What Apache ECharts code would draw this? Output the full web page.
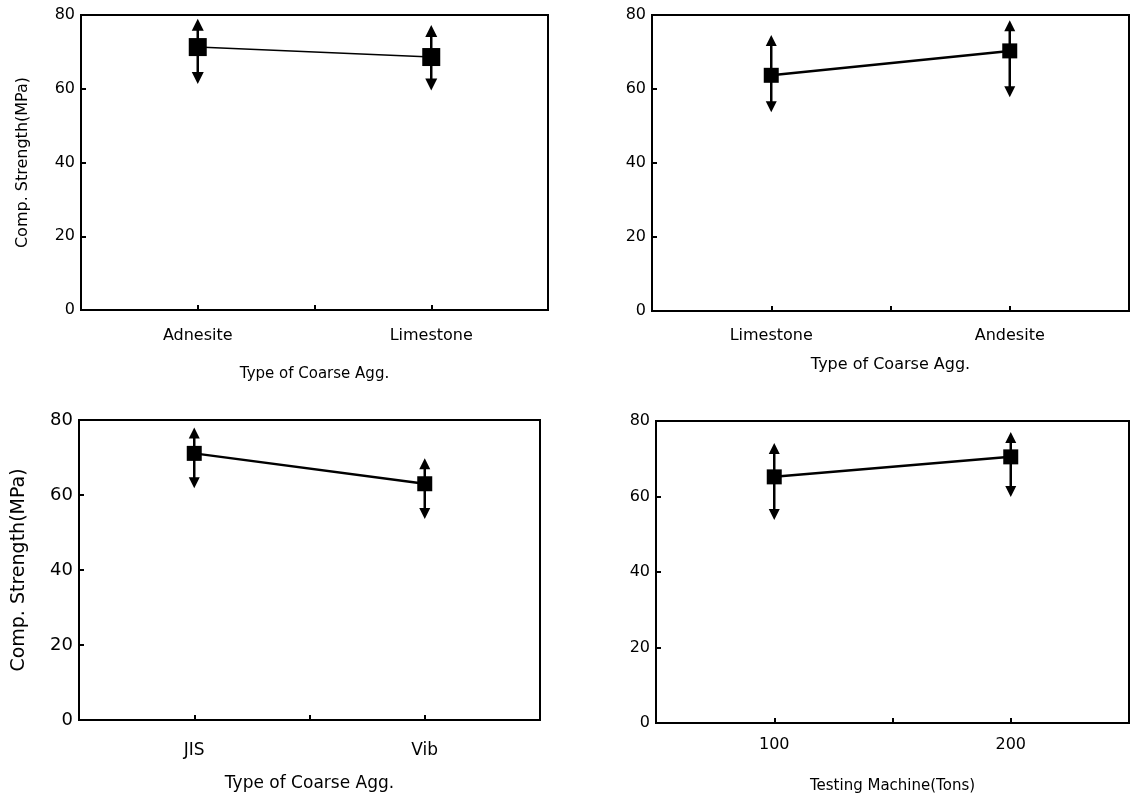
<!DOCTYPE html>
<html><head><meta charset="utf-8">
<script src="https://cdn.jsdelivr.net/npm/echarts@6/dist/echarts.min.js"></script>
<style>html,body{margin:0;padding:0;background:#fff}#c{width:1132px;height:802px}</style>
</head><body><div id="c"></div>
<script>
// Panel data
const cats1 = ['Adnesite', 'Limestone'];
const mean1 = [71.3, 68.6];
const up1 = [79.0, 77.3];
const low1 = [61.3, 59.5];

const cats2 = ['Limestone', 'Andesite'];
const mean2 = [63.7, 70.3];
const up2 = [74.6, 78.6];
const low2 = [53.7, 57.8];

const cats3 = ['JIS', 'Vib'];
const mean3 = [71.1, 63.0];
const up3 = [78.0, 69.8];
const low3 = [61.8, 53.6];

const x4 = [100, 200];
const mean4 = [65.2, 70.5];
const up4 = [74.2, 77.1];
const low4 = [53.8, 59.9];

const yTicks = [0, 20, 40, 60, 80];
const yName = 'Comp. Strength(MPa)';
const xName123 = 'Type of Coarse Agg.';
const xName4 = 'Testing Machine(Tons)';

const FONT = 'DejaVu Sans';
const INK = '#000';

function arrowItem(lineW, head, headH) {
  return function (params, api) {
    const x = api.value(0);
    const pLo = api.coord([x, api.value(1)]);
    const pHi = api.coord([x, api.value(2)]);
    const cx = pLo[0];
    return {
      type: 'group',
      children: [
        { type: 'line', shape: { x1: cx, y1: pHi[1] + headH - 1, x2: cx, y2: pLo[1] - headH + 1 },
          style: { stroke: '#000', lineWidth: lineW } },
        { type: 'polygon', shape: { points: [[cx, pHi[1]], [cx - head / 2, pHi[1] + headH], [cx + head / 2, pHi[1] + headH]] },
          style: { fill: '#000' } },
        { type: 'polygon', shape: { points: [[cx, pLo[1]], [cx - head / 2, pLo[1] - headH], [cx + head / 2, pLo[1] - headH]] },
          style: { fill: '#000' } }
      ]
    };
  };
}

function yAxisCfg(gi, showName, fs, nameFs, nameGap) {
  return {
    gridIndex: gi, type: 'value', min: 0, max: 80, interval: 20,
    name: showName ? yName : '', nameLocation: 'middle', nameGap: nameGap,
    nameTextStyle: { fontFamily: FONT, fontSize: nameFs, color: INK },
    axisLine: { show: true, lineStyle: { color: '#000', width: 2 } },
    axisTick: { show: true, inside: true, length: 5, lineStyle: { color: '#000', width: 2 } },
    axisLabel: { fontFamily: FONT, fontSize: fs, color: INK, margin: 6 },
    splitLine: { show: false }
  };
}

function xAxisCat(gi, cats, fs, margin, nameFs, nameGap) {
  return {
    gridIndex: gi, type: 'value', min: 0, max: 4, interval: 1,
    name: xName123, nameLocation: 'middle', nameGap: nameGap,
    nameTextStyle: { fontFamily: FONT, fontSize: nameFs, color: INK },
    axisLine: { show: true, lineStyle: { color: '#000', width: 2 } },
    axisTick: { show: true, inside: true, length: 5, lineStyle: { color: '#000', width: 2 } },
    axisLabel: { fontFamily: FONT, fontSize: fs, color: INK, margin: margin,
      formatter: v => (v === 1 ? cats[0] : v === 3 ? cats[1] : '') },
    splitLine: { show: false }
  };
}

const gridStyle = { show: true, borderColor: '#000', borderWidth: 2, backgroundColor: 'transparent' };

const option = {
  animation: false,
  backgroundColor: '#fff',
  grid: [
    Object.assign({ left: 81, top: 15, width: 467, height: 295 }, gridStyle),
    Object.assign({ left: 652, top: 15, width: 479, height: 296 }, gridStyle),
    Object.assign({ left: 79, top: 420, width: 461, height: 300 }, gridStyle),
    Object.assign({ left: 656, top: 421, width: 475, height: 302 }, gridStyle)
  ],
  xAxis: [
    xAxisCat(0, cats1, 16, 18, 15, 57),
    xAxisCat(1, cats2, 16, 17, 16, 46),
    xAxisCat(2, cats3, 17, 22, 17, 55),
    {
      gridIndex: 3, type: 'value', min: 50, max: 250, interval: 50,
      name: xName4, nameLocation: 'middle', nameGap: 56,
      nameTextStyle: { fontFamily: FONT, fontSize: 15, color: INK },
      axisLine: { show: true, lineStyle: { color: '#000', width: 2 } },
      axisTick: { show: true, inside: true, length: 5, lineStyle: { color: '#000', width: 2 } },
      axisLabel: { fontFamily: FONT, fontSize: 16, color: INK, margin: 14,
        formatter: v => (v === x4[0] || v === x4[1] ? String(v) : '') },
      splitLine: { show: false }
    }
  ],
  yAxis: [
    yAxisCfg(0, true, 16, 16, 50),
    yAxisCfg(1, false, 16, 16, 50),
    yAxisCfg(2, true, 18, 19, 50),
    yAxisCfg(3, false, 16, 16, 50)
  ],
  series: [
    { type: 'custom', xAxisIndex: 0, yAxisIndex: 0, renderItem: arrowItem(2.5, 12, 12),
      data: [[1, low1[0], up1[0]], [3, low1[1], up1[1]]], z: 3 },
    { type: 'line', xAxisIndex: 0, yAxisIndex: 0, symbol: 'rect', symbolSize: 18,
      lineStyle: { color: '#000', width: 1.5 }, itemStyle: { color: '#000' },
      data: [[1, mean1[0]], [3, mean1[1]]], z: 4 },

    { type: 'custom', xAxisIndex: 1, yAxisIndex: 1, renderItem: arrowItem(2.5, 11, 11),
      data: [[1, low2[0], up2[0]], [3, low2[1], up2[1]]], z: 3 },
    { type: 'line', xAxisIndex: 1, yAxisIndex: 1, symbol: 'rect', symbolSize: 15,
      lineStyle: { color: '#000', width: 2.5 }, itemStyle: { color: '#000' },
      data: [[1, mean2[0]], [3, mean2[1]]], z: 4 },

    { type: 'custom', xAxisIndex: 2, yAxisIndex: 2, renderItem: arrowItem(2.5, 11, 11),
      data: [[1, low3[0], up3[0]], [3, low3[1], up3[1]]], z: 3 },
    { type: 'line', xAxisIndex: 2, yAxisIndex: 2, symbol: 'rect', symbolSize: 15,
      lineStyle: { color: '#000', width: 2.5 }, itemStyle: { color: '#000' },
      data: [[1, mean3[0]], [3, mean3[1]]], z: 4 },

    { type: 'custom', xAxisIndex: 3, yAxisIndex: 3, renderItem: arrowItem(2.5, 11, 11),
      data: [[x4[0], low4[0], up4[0]], [x4[1], low4[1], up4[1]]], z: 3 },
    { type: 'line', xAxisIndex: 3, yAxisIndex: 3, symbol: 'rect', symbolSize: 15,
      lineStyle: { color: '#000', width: 2.5 }, itemStyle: { color: '#000' },
      data: [[x4[0], mean4[0]], [x4[1], mean4[1]]], z: 4 }
  ]
};

const chart = echarts.init(document.getElementById('c'), null, { renderer: 'canvas' });
chart.setOption(option);
</script>
</body></html>
